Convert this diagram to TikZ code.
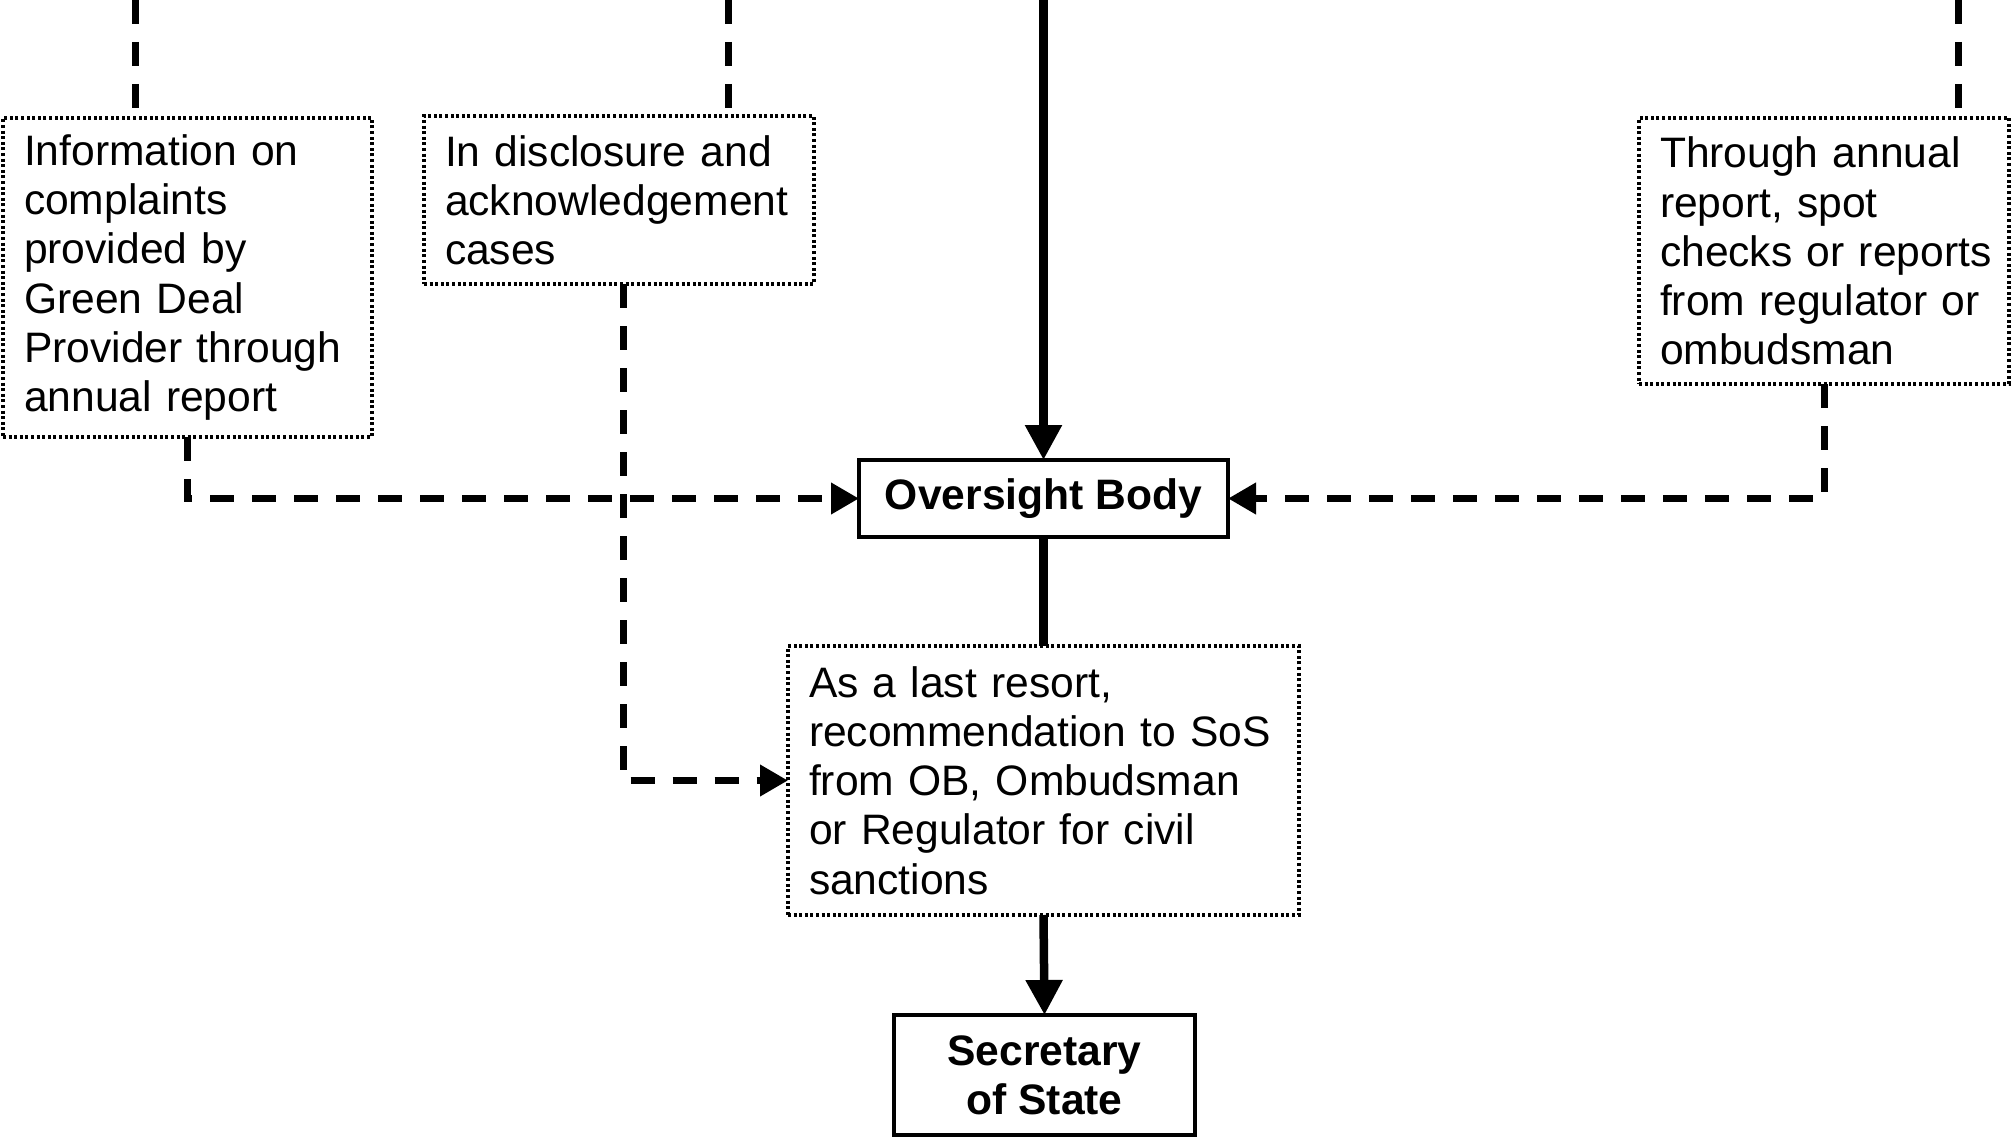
\documentclass[tikz,border=0pt]{standalone}
\usepackage{fontspec}
\setmainfont{Liberation Sans}
\usetikzlibrary{arrows.meta}
\tikzset{
  every node/.style={font=\fontsize{42.6}{49.2}\selectfont, inner ysep=0pt, outer sep=0pt},
  dotbox/.style={draw, line width=3.2pt, dash pattern=on 3pt off 2.6pt, anchor=north west, align=left, inner xsep=21pt},
  solidbox/.style={draw, line width=3.5pt, anchor=north west, align=center, font=\fontsize{42.6}{49.2}\selectfont\bfseries},
  dashline/.style={line width=7pt, dash pattern=on 24pt off 18pt},
  solidline/.style={line width=8.5pt},
  bigtip/.style={-{Triangle[length=35pt,width=35pt]}},
  smalltip/.style={-{Triangle[length=28pt,width=30pt]}},
}
\begin{document}
\begin{tikzpicture}[x=1pt,y=-1pt]
\useasboundingbox (0,0) rectangle (2013,1137);
% boxes
\node[dotbox, minimum width=369pt, minimum height=319pt, text width=327pt] (b1) at (3,118)
  {Information on\\complaints\\provided by\\Green Deal\\\mbox{Provider through}\\annual report};
\node[dotbox, minimum width=390pt, minimum height=168pt, text width=348pt] (b2) at (424,116)
  {In disclosure and\\acknowledgement\\cases};
\node[dotbox, minimum width=370pt, minimum height=266pt, text width=328pt] (b3) at (1639,118)
  {Through annual\\report, spot\\\mbox{checks or reports}\\\mbox{from regulator or}\\ombudsman};
\node[solidbox, minimum width=369pt, minimum height=77pt] (ob) at (859,460) {\raisebox{-3pt}{Oversight Body}};
\node[dotbox, minimum width=511pt, minimum height=269pt, text width=469pt] (lr) at (788,646)
  {As a last resort,\\\mbox{recommendation to SoS}\\from OB, Ombudsman\\or Regulator for civil\\sanctions};
\node[solidbox, minimum width=301pt, minimum height=120pt] (sos) at (894,1015) {Secretary\\of State};
% top free ends
\coordinate (t1) at (135,0);
\coordinate (t2) at (728,0);
\coordinate (t3) at (ob.north |- 0,0);
\coordinate (t4) at (1958,0);
% connectors
\draw[dashline] (t1) -- (t1 |- b1.north);
\draw[dashline] (t2) -- (t2 |- b2.north);
\draw[dashline] (t4) -- (t4 |- b3.north);
\draw[solidline, bigtip] (t3) -- (ob.north);
\draw[dashline, smalltip] (b1.south) |- (ob.west);
\draw[dashline, smalltip] (b3.south) |- (ob.east);
\draw[dashline, smalltip] ([xshift=4pt]b2.south) |- (lr.west);
\draw[solidline] (ob.south) -- (lr.north);
\draw[solidline, bigtip] (lr.south) -- (sos.north);
\end{tikzpicture}
\end{document}
